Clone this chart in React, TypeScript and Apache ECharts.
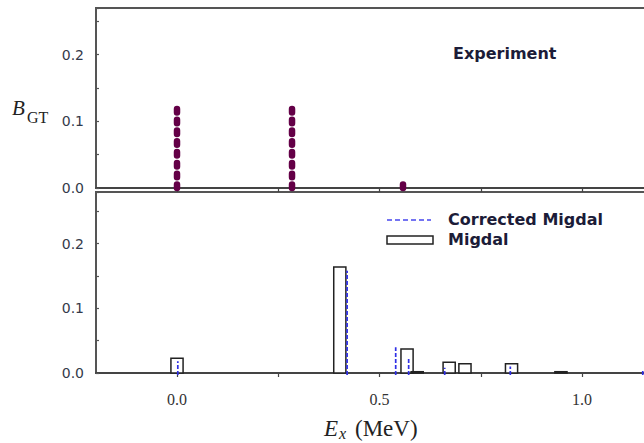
import React, { useEffect, useRef } from "react";
import * as echarts from "echarts";

// Experiment (top panel)
const expEnergy = [0.0, 0.284, 0.558];
const expBGT = [0.124, 0.127, 0.006];

// Migdal (outlined bars, bottom panel)
const migdalEnergy = [0.0, 0.402, 0.568, 0.593, 0.672, 0.711, 0.826, 0.948];
const migdalBGT = [0.023, 0.164, 0.037, 0.002, 0.0165, 0.0145, 0.0145, 0.002];

// Corrected Migdal (dashed stems, bottom panel)
const corrEnergy = [0.002, 0.42, 0.54, 0.572, 0.661, 0.823, 1.15];
const corrBGT = [0.018, 0.158, 0.04, 0.023, 0.008, 0.01, 0.004];

// Axis ticks / labels
const xTickValues = [0, 0.25, 0.5, 0.75, 1.0];
const xLabelValues = [0, 0.5, 1.0];

const BAR_W = 0.03;

export default function App() {
  const ref = useRef<HTMLDivElement>(null);
  useEffect(() => {
    if (!ref.current) return;
    const chart = echarts.init(ref.current, null, { renderer: "svg" });
    const yFmt = (v: number) =>
      Math.abs(v * 10 - Math.round(v * 10)) < 1e-6 ? v.toFixed(1) : "";
    const frame = "#555";
    const yAxisCommon = {
      type: "value",
      min: 0,
      interval: 0.05,
      axisLine: { show: true, onZero: false, lineStyle: { color: frame, width: 2 } },
      axisTick: { show: true, inside: true, length: 3, lineStyle: { color: frame, width: 1.2 } },
      axisLabel: {
        formatter: yFmt,
        fontFamily: "DejaVu Sans",
        fontSize: 14,
        color: "#333a4a",
        margin: 12,
      },
      splitLine: { show: false },
    };
    const xAxisCommon = {
      type: "value",
      min: -0.2,
      max: 1.2,
      axisLine: { show: true, onZero: false, lineStyle: { color: "#444", width: 2 } },
      axisTick: {
        show: true,
        inside: false,
        length: 4,
        customValues: xTickValues,
        lineStyle: { color: "#444", width: 1.2 },
      },
      splitLine: { show: false },
    };
    const textStyle = (extra: any) => ({
      fill: "#1c1c38",
      textAlign: "left",
      textVerticalAlign: "middle",
      ...extra,
    });
    chart.setOption({
      animation: false,
      backgroundColor: "#fff",
      grid: [
        { left: 96, top: 8, width: 567, height: 180, show: true, borderColor: frame, borderWidth: 2, containLabel: false },
        { left: 96, top: 192, width: 567, height: 181, show: true, borderColor: frame, borderWidth: 2, containLabel: false },
      ],
      xAxis: [
        { ...xAxisCommon, gridIndex: 0, axisLabel: { show: false } },
        {
          ...xAxisCommon,
          gridIndex: 1,
          axisLabel: {
            show: true,
            customValues: xLabelValues,
            formatter: (v: number) => v.toFixed(1),
            fontFamily: "Liberation Serif",
            fontSize: 16,
            color: "#333",
            margin: 18,
          },
        },
      ],
      yAxis: [
        { ...yAxisCommon, gridIndex: 0, max: 0.27 },
        { ...yAxisCommon, gridIndex: 1, max: 0.28 },
      ],
      series: [
        {
          type: "custom",
          name: "Experiment",
          xAxisIndex: 0,
          yAxisIndex: 0,
          data: expEnergy.map((e, i) => [e, expBGT[i]]),
          renderItem: (params: any, api: any) => {
            const p0 = api.coord([api.value(0), 0]);
            const p1 = api.coord([api.value(0), api.value(1)]);
            return {
              type: "line",
              shape: { x1: p0[0], y1: p0[1], x2: p1[0], y2: p1[1] },
              style: { stroke: "#640047", lineWidth: 6.5, lineDash: [3.5, 7.3], lineCap: "round", fill: null },
            };
          },
        },
        {
          type: "custom",
          name: "Migdal",
          xAxisIndex: 1,
          yAxisIndex: 1,
          data: migdalEnergy.map((e, i) => [e, migdalBGT[i]]),
          renderItem: (params: any, api: any) => {
            const x = api.value(0);
            const p0 = api.coord([x - BAR_W / 2, api.value(1)]);
            const p1 = api.coord([x + BAR_W / 2, 0]);
            return {
              type: "rect",
              shape: { x: p0[0], y: p0[1], width: p1[0] - p0[0], height: p1[1] - p0[1] },
              style: { fill: "#fff", stroke: "#222", lineWidth: 1.5 },
            };
          },
        },
        {
          type: "custom",
          name: "Corrected Migdal",
          xAxisIndex: 1,
          yAxisIndex: 1,
          data: corrEnergy.map((e, i) => [e, corrBGT[i]]),
          renderItem: (params: any, api: any) => {
            const p0 = api.coord([api.value(0), 0]);
            const p1 = api.coord([api.value(0), api.value(1)]);
            return {
              type: "line",
              shape: { x1: p0[0], y1: p0[1] + 2, x2: p1[0], y2: p1[1] },
              style: { stroke: "#2f2fe6", lineWidth: 1.7, lineDash: [4, 2], fill: null },
            };
          },
        },
      ],
      graphic: [
        {
          type: "text",
          x: 453,
          y: 53,
          style: textStyle({
            text: "Experiment",
            fontFamily: "DejaVu Sans",
            fontWeight: "bold",
            fontSize: 16,
          }),
        },
        {
          type: "line",
          shape: { x1: 387, y1: 220, x2: 431, y2: 220 },
          style: { stroke: "#7474f2", lineWidth: 2, lineDash: [5, 3] },
        },
        {
          type: "rect",
          shape: { x: 387, y: 236, width: 46, height: 8 },
          style: { fill: "#fff", stroke: "#222", lineWidth: 1.5 },
        },
        {
          type: "text",
          x: 448,
          y: 219,
          style: textStyle({
            text: "Corrected Migdal",
            fontFamily: "DejaVu Sans",
            fontWeight: "bold",
            fontSize: 16,
          }),
        },
        {
          type: "text",
          x: 448,
          y: 239,
          style: textStyle({
            text: "Migdal",
            fontFamily: "DejaVu Sans",
            fontWeight: "bold",
            fontSize: 16,
          }),
        },
        {
          type: "text",
          x: 12,
          y: 108,
          style: textStyle({
            text: "B",
            fontFamily: "Liberation Serif",
            fontStyle: "italic",
            fontSize: 21,
            fill: "#222",
          }),
        },
        {
          type: "text",
          x: 27,
          y: 117,
          style: textStyle({
            text: "GT",
            fontFamily: "Liberation Serif",
            fontSize: 16,
            fill: "#222",
          }),
        },
        {
          type: "text",
          x: 324,
          y: 428,
          style: textStyle({
            text: "E",
            fontFamily: "Liberation Serif",
            fontStyle: "italic",
            fontSize: 23,
            fill: "#222",
          }),
        },
        {
          type: "text",
          x: 339,
          y: 433,
          style: textStyle({
            text: "x",
            fontFamily: "Liberation Serif",
            fontStyle: "italic",
            fontSize: 16,
            fill: "#222",
          }),
        },
        {
          type: "text",
          x: 355,
          y: 428,
          style: textStyle({
            text: "(MeV)",
            fontFamily: "Liberation Serif",
            fontSize: 23,
            fill: "#222",
          }),
        },
      ],
    });
    return () => chart.dispose();
  }, []);
  return (
    <div
      style={{
        position: "absolute",
        left: 0,
        top: 0,
        width: 644,
        height: 443,
        overflow: "hidden",
        background: "#fff",
      }}
    >
      <div ref={ref} style={{ width: 700, height: 443 }} />
    </div>
  );
}
